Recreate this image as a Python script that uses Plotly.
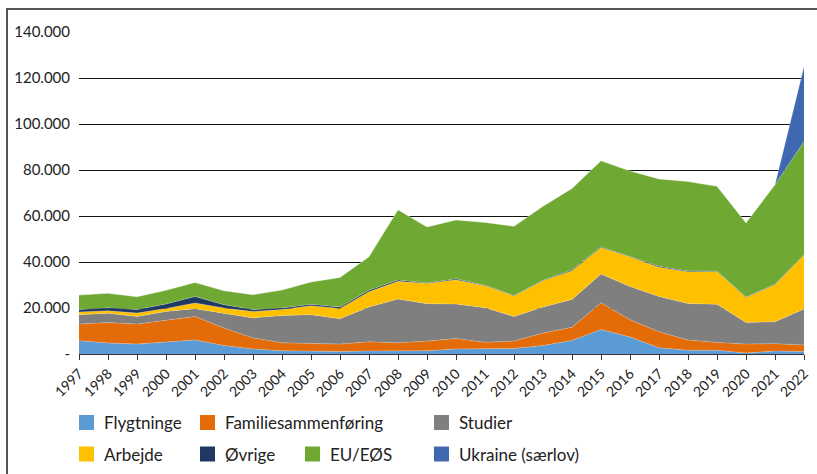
import plotly.graph_objects as go

years = list(range(1997, 2023))

flygtninge = [5.8, 4.8, 4.3, 5.2, 6.1, 3.7, 2.2, 1.4, 1.1, 1.1, 1.3, 1.3, 1.4, 2.2, 2.2, 2.4,
              3.7, 5.9, 10.6, 7.4, 2.7, 1.6, 1.6, 0.4, 1.3, 1.1]
familie = [7.2, 8.9, 8.7, 9.3, 10.2, 7.6, 4.8, 3.5, 3.4, 3.2, 4.0, 3.6, 4.2, 4.5, 2.9, 3.2,
           5.4, 5.7, 11.7, 7.5, 7.0, 4.5, 3.4, 3.9, 3.2, 2.8]
studier = [4.1, 4.0, 3.3, 4.0, 3.4, 6.5, 8.7, 11.8, 12.6, 11.0, 15.1, 19.0, 16.3, 15.0, 15.0, 10.7,
           11.3, 12.1, 12.5, 14.5, 15.3, 15.9, 16.6, 9.4, 9.5, 15.7]
arbejde = [1.2, 1.1, 1.5, 1.3, 2.5, 2.2, 2.8, 2.6, 3.9, 4.5, 6.7, 7.7, 8.7, 10.6, 9.6, 8.9,
           11.5, 12.5, 11.5, 12.8, 12.7, 13.8, 14.3, 10.9, 16.1, 23.4]
oevrige = [1.0, 1.3, 1.5, 1.9, 2.8, 1.4, 0.8, 0.7, 0.6, 0.6, 0.6, 0.6, 0.3, 0.4, 0.2, 0.2,
           0.2, 0.4, 0.3, 0.3, 0.4, 0.3, 0.2, 0.2, 0.2, 0.2]
eu_eoes = [6.3, 6.3, 5.6, 6.0, 6.1, 6.1, 6.5, 7.8, 9.7, 12.9, 14.6, 30.5, 24.3, 25.6, 27.3, 30.1,
           32.1, 35.4, 37.4, 37.1, 38.0, 38.9, 36.8, 32.2, 43.3, 49.2]
ukraine = [0, 0, 0, 0, 0, 0, 0, 0, 0, 0, 0, 0, 0, 0, 0, 0,
           0, 0, 0, 0, 0, 0, 0, 0, 0, 32.6]

y_tickvals = [0, 20000, 40000, 60000, 80000, 100000, 120000, 140000]
y_ticktext = ["-", "20.000", "40.000", "60.000", "80.000", "100.000", "120.000", "140.000"]

series_names = ["Flygtninge", "Familiesammenføring", "Studier", "Arbejde",
                "Øvrige", "EU/EØS", "Ukraine (særlov)"]
series_values = [flygtninge, familie, studier, arbejde, oevrige, eu_eoes, ukraine]
series_colors = ["#5B9BD5", "#E36C09", "#7F7F7F", "#FFC000", "#1F3864", "#6FA833", "#4068B1"]

# legend layout: (column px of swatch, row index)
legend_slots = [(79, 0), (200, 0), (434, 0), (79, 1), (200, 1), (305, 1), (434, 1)]

PL, PR, PT, PB = 79, 804, 32, 354  # plot area in pixels


def px_x(px):
    return (px - PL) / float(PR - PL)


def px_y(py):
    return (PB - py) / float(PB - PT)


font_family = "Lato, 'Open Sans', sans-serif"

fig = go.Figure()
for name, vals, color in zip(series_names, series_values, series_colors):
    fig.add_trace(go.Scatter(
        x=years, y=[v * 1000 for v in vals], name=name,
        stackgroup="one", mode="lines",
        line=dict(width=0.6, color="rgba(255,255,255,0.35)"),
        fillcolor=color, showlegend=False,
        hoverinfo="x+y+name",
    ))

# legend drawn as swatches + text
row_centers = [422.5, 454]
for (sx, row), name, color in zip(legend_slots, series_names, series_colors):
    cy = row_centers[row]
    fig.add_shape(type="rect", xref="paper", yref="paper",
                  x0=px_x(sx), x1=px_x(sx + 15), y0=px_y(cy + 7.5), y1=px_y(cy - 7.5),
                  line=dict(width=0), fillcolor=color)
    fig.add_annotation(xref="paper", yref="paper", x=px_x(sx + 23), y=px_y(cy),
                       text=name, showarrow=False, xanchor="left", yanchor="middle",
                       font=dict(family=font_family, size=17, color="#222"))

fig.update_layout(
    width=817, height=474,
    margin=dict(l=PL, r=817 - PR, t=PT, b=474 - PB, autoexpand=False),
    paper_bgcolor="white", plot_bgcolor="white",
    font=dict(family=font_family, size=14, color="#222"),
    showlegend=False,
    xaxis=dict(
        range=[1997, 2022], tickmode="array", tickvals=years,
        ticktext=[str(y) for y in years], tickangle=-45,
        ticks="outside", ticklen=5, tickcolor="#333", tickwidth=1,
        showline=True, linecolor="#333", linewidth=1,
        showgrid=False, zeroline=False, automargin=False,
        tickfont=dict(family=font_family, size=14, color="#222"),
    ),
    yaxis=dict(
        range=[0, 140000], tickmode="array", tickvals=y_tickvals, ticktext=y_ticktext,
        showgrid=True, gridcolor="#111", gridwidth=1, zeroline=False,
        showline=False, ticks="", ticklabelstandoff=8, automargin=False,
        tickfont=dict(family=font_family, size=15, color="#222"),
    ),
    hovermode="x unified",
)

# chart frame
fig.add_shape(type="rect", xref="paper", yref="paper",
              x0=px_x(7), x1=px_x(840), y0=px_y(520), y1=px_y(9),
              line=dict(color="#555", width=2), fillcolor="rgba(0,0,0,0)", layer="below")

fig.write_html(
    "out.html",
    config={"displayModeBar": False},
    post_script="document.body.style.margin='0';document.body.style.padding='0';",
)
